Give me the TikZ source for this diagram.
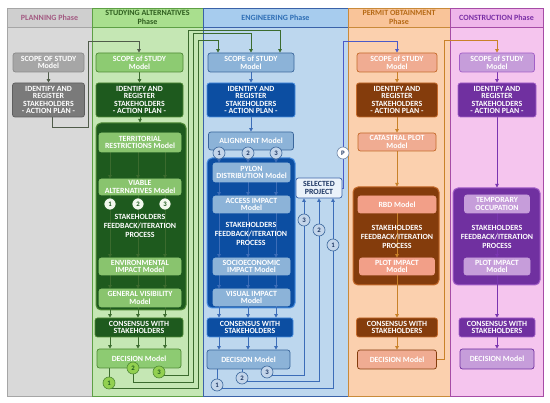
\documentclass[tikz,border=0pt]{standalone}
\usepackage{fontspec}
\setmainfont{Carlito}
\usepackage{tikz}
\usetikzlibrary{arrows.meta}

% phase colours
\definecolor{plaBg}{HTML}{D9D9D9}\definecolor{plaHd}{HTML}{CFCFCF}\definecolor{plaLn}{HTML}{A6A6A6}\definecolor{plaTx}{HTML}{A35A82}
\definecolor{stuBg}{HTML}{C5E7B4}\definecolor{stuHd}{HTML}{A9DF8E}\definecolor{stuLn}{HTML}{5EA045}\definecolor{stuTx}{HTML}{2F5E1F}
\definecolor{engBg}{HTML}{BDD7EE}\definecolor{engHd}{HTML}{A7CCEE}\definecolor{engLn}{HTML}{3A62A8}\definecolor{engTx}{HTML}{2E6EB5}
\definecolor{perBg}{HTML}{FBD0AE}\definecolor{perHd}{HTML}{F9C499}\definecolor{perLn}{HTML}{C98A3A}\definecolor{perTx}{HTML}{B66A16}
\definecolor{conBg}{HTML}{F5C5EE}\definecolor{conHd}{HTML}{EFB6EA}\definecolor{conLn}{HTML}{A64CA6}\definecolor{conTx}{HTML}{7A2FA6}
% box colours
\definecolor{gryLt}{HTML}{A6A6A6}\definecolor{gryDk}{HTML}{7A7A7A}\definecolor{gryBd}{HTML}{8A8A8A}\definecolor{gryDn}{HTML}{5E5E5E}
\definecolor{grnMd}{HTML}{8DCB72}\definecolor{grnDk}{HTML}{1E5A1E}\definecolor{grnIn}{HTML}{89C46E}\definecolor{grnLn}{HTML}{4F8A35}
\definecolor{grnWt}{HTML}{F2F8EE}\definecolor{grnLm}{HTML}{92D050}
\definecolor{bluMd}{HTML}{8CB3D8}\definecolor{bluDk}{HTML}{0C4EA2}\definecolor{bluLn}{HTML}{4A8FDF}\definecolor{bluBd}{HTML}{3B679C}
\definecolor{bluCl}{HTML}{C3D5EA}\definecolor{bluTx}{HTML}{1F3864}\definecolor{selBg}{HTML}{EAF2FA}\definecolor{pGry}{HTML}{7088A8}
\definecolor{ornMd}{HTML}{F0AC92}\definecolor{ornDk}{HTML}{843C0C}\definecolor{ornIn}{HTML}{F29F88}\definecolor{ornLn}{HTML}{C56A2A}
\definecolor{purMd}{HTML}{C69DDA}\definecolor{purDk}{HTML}{7030A0}\definecolor{purLn}{HTML}{A35FC8}
% wire colours
\definecolor{plaWr}{HTML}{505C4A}\definecolor{stuWr}{HTML}{3B6B2E}\definecolor{engWr}{HTML}{3C6DB8}
\definecolor{selWr}{HTML}{4A5AC8}\definecolor{perWr}{HTML}{C98128}\definecolor{conWr}{HTML}{7A35B0}

\newcommand{\stakeid}{IDENTIFY AND\\REGISTER\\STAKEHOLDERS\\- ACTION PLAN -}
\newcommand{\fbtext}{STAKEHOLDERS\\FEEDBACK/ITERATION\\PROCESS}

\pgfdeclarelayer{back}
\pgfdeclarelayer{wires}
\pgfsetlayers{back,wires,main}

\begin{document}
\begin{tikzpicture}[x=1pt, y=-1pt, every node/.style={font=\bfseries\fontsize{7.9}{7.6}\selectfont}]
\tikzset{
  md/.style={draw, rounded corners=2.5pt, line width=0.7pt, align=center, inner sep=0pt, text=white},
  wh/.style 2 args={minimum width=#1, minimum height=#2},
  big/.style={draw, rounded corners=5pt, line width=1pt},
  fb/.style={align=center, text=white, font=\bfseries\fontsize{7.9}{8.8}\selectfont},
  hd/.style={align=center, font=\bfseries\fontsize{8}{9}\selectfont},
  num/.style={circle, draw, line width=0.6pt, inner sep=0pt, minimum size=12, font=\bfseries\fontsize{6.8}{6.8}\selectfont},
  wire/.style={draw=#1, line width=0.8pt},
  arr/.style={wire=#1, -{Triangle[length=3.5pt, width=3.5pt]}}
}
\useasboundingbox (0,0) rectangle (550,403);

% --- phase columns ---
\begin{pgfonlayer}{back}
  \fill[white] (0,0) rectangle (550,403);
  \foreach \x/\X/\c in {7/92/pla, 92/203/stu, 203/348/eng, 348/450/per, 450/543/con} {
    \filldraw[fill=\c Bg, draw=\c Ln, line width=0.8pt] (\x,27) rectangle (\X,396);
    \filldraw[fill=\c Hd, draw=\c Ln, line width=0.8pt] (\x,8) rectangle (\X,27);
  }
  \node[big, fill=grnDk, draw=grnLn, wh={90}{187}] (bbox) at (141,216.5) {};
  \node[big, fill=bluDk, draw=bluLn, wh={88}{150}] (cbox) at (251,233) {};
  \node[big, fill=ornDk, draw=ornLn, wh={86}{98}] (dbox) at (396,236) {};
  \node[big, fill=purDk, draw=purLn, wh={87}{97}] (ebox) at (496.5,236.5) {};
\end{pgfonlayer}

\node[hd, text=plaTx] (ahead) at (49.5,17.5) {PLANNING Phase};
\node[hd, text=stuTx] (bhead) at (147.5,17.5) {STUDYING ALTERNATIVES\\Phase};
\node[hd, text=engTx] (chead) at (275.5,17.5) {ENGINEERING Phase};
\node[hd, text=perTx] (dhead) at (399,17.5) {PERMIT OBTAINMENT\\Phase};
\node[hd, text=conTx] (ehead) at (496.5,17.5) {CONSTRUCTION Phase};

% --- planning ---
\node[md, fill=gryLt, draw=gryBd, wh={71}{19}] (ascope) at (48.5,62.5) {SCOPE OF STUDY\\Model};
\node[md, fill=gryDk, draw=gryDn, wh={72}{34}] (aident) at (48.5,100) {\stakeid};

% --- studying alternatives ---
\node[md, fill=grnMd, draw=grnLn, wh={87}{19}] (bscope) at (139.5,62.5) {SCOPE of STUDY\\Model};
\node[md, fill=grnDk, draw=grnLn, wh={87}{34}] (bident) at (139.5,100) {\stakeid};
\node[md, fill=grnIn, draw=grnIn, wh={82}{19}] (bterr) at (140,142.5) {TERRITORIAL\\RESTRICTIONS Model};
\node[md, fill=grnIn, draw=grnIn, wh={82}{16}] (bviab) at (140,187) {VIABLE\\ALTERNATIVES Model};
\foreach \x [count=\i] in {110,138,165} \node[num, fill=grnWt, draw=grnDk, text=grnDk] (bi\i) at (\x,204) {\i};
\node[fb] (bfb) at (140,226) {\fbtext};
\node[md, fill=grnIn, draw=grnIn, wh={82}{17}] (benv) at (140,266.5) {ENVIRONMENTAL\\IMPACT Model};
\node[md, fill=grnIn, draw=grnIn, wh={82}{18}] (bvis) at (140,298) {GENERAL VISIBILITY\\Model};
\node[md, fill=grnDk, draw=grnLn, wh={88}{19}] (bcons) at (139,327.5) {CONSENSUS WITH\\STAKEHOLDERS};
\node[md, fill=grnMd, draw=grnLn, wh={84}{19}] (bdec) at (139,358.5) {DECISION Model};
\foreach \x/\y [count=\i] in {109/383,133/368,159/372} \node[num, fill=grnLm, draw=grnLn, text=grnDk] (bo\i) at (\x,\y) {\i};

% --- engineering ---
\node[md, fill=bluMd, draw=bluBd, wh={86}{19}] (cscope) at (251,62.5) {SCOPE of STUDY\\Model};
\node[md, fill=bluDk, draw=bluLn, wh={88}{34}] (cident) at (251,100) {\stakeid};
\node[md, fill=bluMd, draw=bluBd, wh={85}{18}] (calign) at (251,141) {ALIGNMENT Model};
\foreach \x [count=\i] in {219,248,276} \node[num, fill=bluCl, draw=bluBd, text=bluTx] (ci\i) at (\x,153) {\i};
\node[md, fill=bluMd, draw=bluMd, wh={77}{19}] (cpyl) at (251.5,172.5) {PYLON\\DISTRIBUTION Model};
\node[md, fill=bluMd, draw=bluMd, wh={77}{17}] (cacc) at (251.5,204.5) {ACCESS IMPACT\\Model};
\node[fb] (cfb) at (251,234) {\fbtext};
\node[md, fill=bluMd, draw=bluMd, wh={77}{17}] (csoc) at (251.5,266.5) {SOCIOECONOMIC\\IMPACT Model};
\node[md, fill=bluMd, draw=bluMd, wh={77}{17}] (cvis) at (251.5,297.5) {VISUAL IMPACT\\Model};
\node[md, fill=bluDk, draw=bluLn, wh={86}{19}] (ccons) at (250,327.5) {CONSENSUS WITH\\STAKEHOLDERS};
\node[md, fill=bluMd, draw=bluBd, wh={83}{19}] (cdec) at (248.5,359.5) {DECISION Model};
\foreach \x/\y [count=\i] in {217/385,242/378,267/372} \node[num, fill=bluCl, draw=bluBd, text=bluTx] (co\i) at (\x,\y) {\i};
\foreach \x/\y [count=\i] in {333/245,319/230,304/220} \node[num, fill=bluCl, draw=bluBd, text=bluTx] (cp\i) at (\x,\y) {\i};
\node[md, fill=selBg, draw=engLn, text=bluTx, wh={46}{20}] (sel) at (319,188) {SELECTED\\PROJECT};
\node[num, fill=white, draw=pGry, text=bluTx] (pp) at (343,153) {P};

% --- permit obtainment ---
\node[md, fill=ornMd, draw=ornLn, wh={80}{19}] (dscope) at (397,62.5) {SCOPE of STUDY\\Model};
\node[md, fill=ornDk, draw=ornLn, wh={81}{34}] (dident) at (397,100) {\stakeid};
\node[md, fill=ornMd, draw=ornLn, wh={78}{18}] (dcat) at (397,142) {CATASTRAL PLOT\\Model};
\node[md, fill=ornIn, draw=ornIn, wh={78}{17}] (drbd) at (397,204.5) {RBD Model};
\node[fb] (dfb) at (397,237) {\fbtext};
\node[md, fill=ornIn, draw=ornIn, wh={75}{17}] (dplot) at (397,266.5) {PLOT IMPACT\\Model};
\node[md, fill=ornDk, draw=ornLn, wh={81}{19}] (dcons) at (397,327.5) {CONSENSUS WITH\\STAKEHOLDERS};
\node[md, fill=ornMd, draw=ornDk, wh={79}{19}] (ddec) at (397,359.5) {DECISION Model};

% --- construction ---
\node[md, fill=purMd, draw=purLn, wh={75}{19}] (escope) at (497,62.5) {SCOPE of STUDY\\Model};
\node[md, fill=purDk, draw=purLn, wh={78}{34}] (eident) at (497,100) {\stakeid};
\node[md, fill=purMd, draw=purMd, wh={65}{18}] (etemp) at (497,204) {TEMPORARY\\OCCUPATION};
\node[fb] (efb) at (497,237) {\fbtext};
\node[md, fill=purMd, draw=purMd, wh={66}{17}] (eplot) at (497,266.5) {PLOT IMPACT\\Model};
\node[md, fill=purDk, draw=purLn, wh={76}{19}] (econs) at (497,327.5) {CONSENSUS WITH\\STAKEHOLDERS};
\node[md, fill=purMd, draw=purDk, wh={74}{20}] (edec) at (497,359) {DECISION Model};

% --- connectors ---
\begin{pgfonlayer}{wires}
  \draw[arr=plaWr] (ascope) -- (aident);
  \draw[arr=plaWr] (aident.south -| 52,0) |- (88,127) |- (139,41) -- (bscope.north -| 139,0);
  % studying
  \draw[arr=stuWr] (bscope) -- (bident);
  \draw[arr=stuWr] (bident.south -| 140,0) -- (bbox.north -| 140,0);
  \foreach \x [count=\i] in {110,138,165} {
    \draw[arr=stuWr] (bterr.south -| \x,0) -- (bviab.north -| \x,0);
    \draw[wire=stuWr] (bviab.south -| \x,0) -- (bi\i);
    \draw[arr=stuWr] (bi\i) -- (benv.north -| \x,0);
    \draw[arr=stuWr] (benv.south -| \x,0) -- (bvis.north -| \x,0);
    \draw[arr=stuWr] (bvis.south -| \x,0) -- (bcons.north -| \x,0);
    \draw[arr=stuWr] (bcons.south -| \x,0) -- (bdec.north -| \x,0);
  }
  \foreach \i/\vx/\hy/\tx/\ty in {1/198/388/218/40, 2/193/382/251/33, 3/188/375/280/30} {
    \draw[wire=stuWr] (bdec.south -| bo\i) -- (bo\i);
    \draw[arr=stuWr] (bo\i) |- (\vx,\hy) |- (\tx,\ty) -- (cscope.north -| \tx,0);
  }
  % engineering
  \draw[arr=engWr] (cscope) -- (cident);
  \draw[arr=engWr] (cident) -- (calign);
  \foreach \x [count=\i] in {219,248,276} {
    \draw[wire=engWr] (calign.south -| \x,0) -- (ci\i);
    \draw[arr=engWr] (ci\i) -- (cpyl.north -| \x,0);
    \draw[arr=engWr] (cpyl.south -| \x,0) -- (cacc.north -| \x,0);
    \draw[arr=engWr] (cacc.south -| \x,0) -- (csoc.north -| \x,0);
    \draw[arr=engWr] (csoc.south -| \x,0) -- (cvis.north -| \x,0);
    \draw[arr=engWr] (cvis.south -| \x,0) -- (ccons.north -| \x,0);
    \draw[arr=engWr] (ccons.south -| \x,0) -- (cdec.north -| \x,0);
  }
  \foreach \i/\vx/\hy in {1/333/388, 2/319/381, 3/304/375} {
    \draw[wire=engWr] (cdec.south -| co\i) -- (co\i);
    \draw[arr=engWr] (co\i) |- (\vx,\hy) -- (cp\i) -- (sel.south -| cp\i);
  }
  \draw[wire=selWr] (sel.east) -| (pp);
  \draw[arr=selWr] (pp) |- (397,41) -- (dscope);
  % permit
  \draw[arr=perWr] (dscope) -- (dident);
  \draw[arr=perWr] (dident) -- (dcat);
  \draw[arr=perWr] (dcat) -- (dcat |- dbox.north);
  \draw[arr=perWr] (drbd) -- (dplot);
  \draw[arr=perWr] (dplot) -- (dcons);
  \draw[arr=perWr] (dcons) -- (ddec);
  \draw[arr=perWr] (ddec.east) -| (444,40) -| (escope);
  % construction
  \draw[arr=conWr] (escope) -- (eident);
  \draw[arr=conWr] (eident) -- (eident |- ebox.north);
  \draw[arr=conWr] (etemp) -- (eplot);
  \draw[arr=conWr] (eplot) -- (econs);
  \draw[arr=conWr] (econs) -- (edec);
\end{pgfonlayer}
\end{tikzpicture}
\end{document}
